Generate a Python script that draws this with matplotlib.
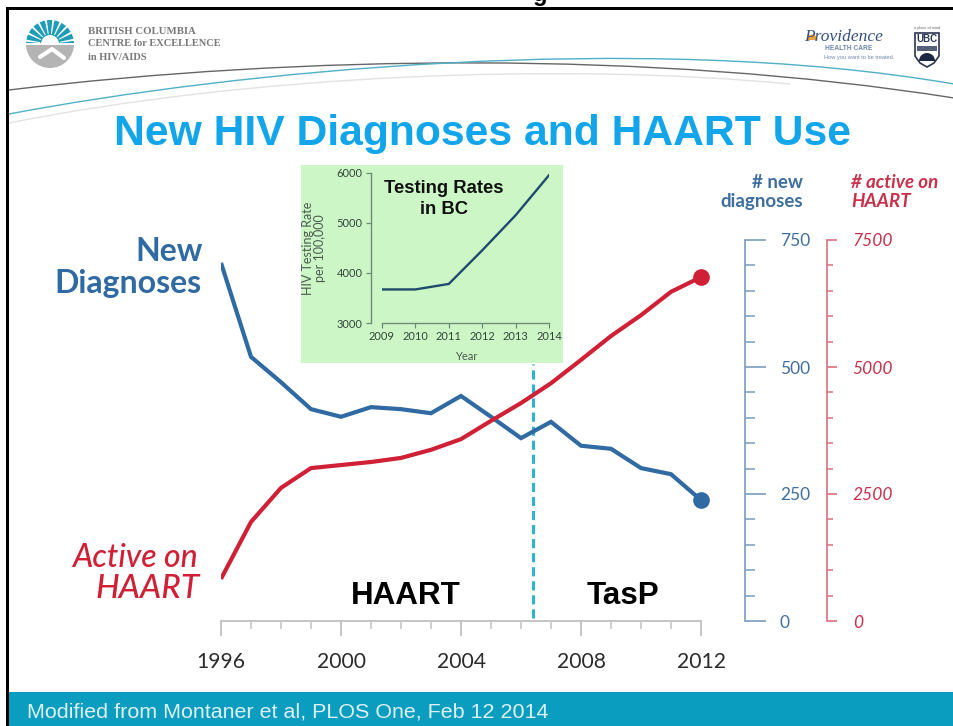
import numpy as np
import matplotlib
matplotlib.use("Agg")
import matplotlib.pyplot as plt
from matplotlib.patches import Rectangle, Wedge, PathPatch, Polygon
from matplotlib.path import Path
from matplotlib.ticker import MultipleLocator, FixedLocator

years = list(range(1996, 2013))
new_diagnoses = [705, 520, 470, 417, 402, 421, 417, 409, 443, 402, 360, 392, 345, 339, 301, 289, 238]
active_on_haart = [830, 1950, 2620, 3010, 3070, 3130, 3210, 3370, 3580, 3940, 4290, 4680, 5140, 5610, 6020, 6480, 6770]
test_years = [2009, 2010, 2011, 2012, 2013, 2014]
test_rates = [3670, 3670, 3780, 4450, 5150, 5950]
xticks_main = [1996, 2000, 2004, 2008, 2012]
era_break = 2006.4

W, H = 954, 726
BLUE = '#2f6aa3'; RED = '#cf2036'
SANS = 'Liberation Sans'; LATO = 'Lato'; SERIF = 'Liberation Serif'

fig = plt.figure(figsize=(W/100, H/100), dpi=100, facecolor='white')

def pos(x0, x1, ytop, ybot):
    return [x0/W, 1-ybot/H, (x1-x0)/W, (ybot-ytop)/H]

# pixel canvas for slide decoration
bg = fig.add_axes([0, 0, 1, 1], zorder=0)
bg.set_xlim(0, W); bg.set_ylim(H, 0); bg.axis('off')
bg.add_patch(Rectangle((8, 692), W-8, 34, fc='#0a9dbf', ec='none'))
bg.add_patch(Rectangle((7, 7), W-7, 2.6, fc='black', ec='none'))
bg.add_patch(Rectangle((6.5, 7), 2.4, H-7, fc='black', ec='none'))
bg.text(540, 1.5, 'g', family=SANS, weight='bold', fontsize=17, ha='center', va='baseline', color='black')
bg.text(27, 712, 'Modified from Montaner et al, PLOS One, Feb 12 2014', family=SANS, fontsize=15.45,
        color='#dcf1f6', va='center', ha='left')

# header swooshes
for pts, c, lw in [
    ([(9, 123), (250, 75), (560, 62), (790, 84)], '#e2e2e2', 1.0),
    ([(9, 90), (300, 55), (650, 50), (954, 98)], '#666666', 1.0),
    ([(9, 114), (230, 72), (640, 30), (954, 84)], '#4fb0c6', 1.0)]:
    bg.add_patch(PathPatch(Path(pts, [Path.MOVETO, Path.CURVE4, Path.CURVE4, Path.CURVE4]),
                           fc='none', ec=c, lw=lw))

# BC Centre logo
cx, cy, r = 50, 44, 24
bg.add_patch(Wedge((cx, cy), r, 180, 360, fc='#1f9db8', ec='none'))
bg.add_patch(Wedge((cx, cy), r, 0, 180, fc='#b4b4b4', ec='none'))
for a in np.arange(188, 360, 18):
    bg.add_patch(Wedge((cx, cy), r+1, a-2.5, a+2.5, width=r-9, fc='white', ec='none'))
bg.add_patch(Wedge((cx, cy), 9, 180, 360, fc='white', ec='none'))
bg.add_patch(Rectangle((cx-r, cy-1), 2*r, 2, fc='white', ec='none'))
bg.plot([cx-10, cx+2, cx+14], [cy+13, cy+5, cy+14], color='white', lw=3, solid_capstyle='round')
for s, y, fs in zip(['BRITISH COLUMBIA', 'CENTRE for EXCELLENCE', 'in HIV/AIDS'], [31, 44, 58], [7.75, 7.5, 7.5]):
    bg.text(88, y, s, family=SERIF, weight='bold', fontsize=fs, color='#787878', va='center', ha='left')

# Providence logo
bg.add_patch(Wedge((812, 40), 5.5, 180, 360, fc='#e8a03a', ec='none'))
bg.text(844, 37, 'Providence', family=SERIF, style='italic', fontsize=12.5, color='#35507f', ha='center', va='center')
bg.text(849, 48, 'HEALTH CARE', family=SANS, weight='bold', fontsize=4.8, color='#6d86aa', ha='center', va='center')
bg.text(859, 58, 'How you want to be treated.', family=SANS, fontsize=4.1, color='#6d86aa', ha='center', va='center')

# UBC shield
bg.add_patch(Polygon([(915, 33), (939, 33), (939, 56), (934, 63), (927, 67), (920, 63), (915, 56)],
                     closed=True, fc='white', ec='#2b3550', lw=1.2))
bg.text(927, 39.5, 'UBC', family=SANS, weight='bold', fontsize=7, color='#2b3550', ha='center', va='center')
bg.add_patch(Rectangle((917, 46), 20, 5, fc='#55607a', ec='none'))
bg.add_patch(Wedge((927, 61), 8, 180, 360, fc='#1c2745', ec='none'))
bg.text(927, 28.5, 'a place of mind', family=SANS, fontsize=2.8, color='#666666', ha='center', va='center')

# title
bg.text(483, 145, 'New HIV Diagnoses and HAART Use', family=SANS, weight='bold', fontsize=30.7,
        color='#12a5ea', ha='center', va='baseline')

# green inset background
bg.add_patch(Rectangle((301, 165), 262, 198, fc='#cdf6c6', ec='none'))

# main chart
ax = fig.add_axes(pos(221, 701, 240, 621), zorder=1)
ax.patch.set_alpha(0)
ax.set_xlim(years[0], years[-1]); ax.set_ylim(0, 750)
for s in ['top', 'left', 'right']:
    ax.spines[s].set_visible(False)
ax.spines['bottom'].set_color('#c4c4c4'); ax.spines['bottom'].set_linewidth(1.4)
ax.set_yticks([])
ax.xaxis.set_major_locator(FixedLocator(xticks_main))
ax.xaxis.set_minor_locator(MultipleLocator(1))
ax.tick_params(axis='x', which='major', length=11, width=1.4, color='#c4c4c4', pad=11, labelsize=15.2, labelcolor='#2b2b2b')
ax.tick_params(axis='x', which='minor', length=5.5, width=1.1, color='#c4c4c4')
for t in ax.get_xticklabels():
    t.set_family(LATO)
ax.plot([era_break, era_break], [5, 506], color='#2fb3d3', lw=2.2, ls=(0, (3, 1.6)), zorder=5)
ax.text(2002.17, 50, 'HAART', family=SANS, weight='bold', fontsize=22.6, ha='center', va='center', color='black')
ax.text(2009.4, 50, 'TasP', family=SANS, weight='bold', fontsize=22.6, ha='center', va='center', color='black')

# blue axis and line
ab = ax.twinx(); ab.set_zorder(2); ab.patch.set_alpha(0)
ab.set_ylim(0, 750)
ab.plot(years, new_diagnoses, color=BLUE, lw=3, solid_joinstyle='miter', solid_capstyle='butt')
ab.plot(years[-1:], new_diagnoses[-1:], 'o', ms=12, color=BLUE, mec='none', clip_on=False)
for s in ['top', 'left', 'bottom']:
    ab.spines[s].set_visible(False)
ab.spines['right'].set_position(('outward', 31.7))
ab.spines['right'].set_color('#7b9cbd'); ab.spines['right'].set_linewidth(1.2)
ab.yaxis.set_major_locator(MultipleLocator(250)); ab.yaxis.set_minor_locator(MultipleLocator(50))
ab.tick_params(axis='y', which='major', length=15, width=1.2, color='#7b9cbd', pad=10, labelsize=12.5, labelcolor='#3f6f9f')
ab.tick_params(axis='y', which='minor', length=7.5, width=1.1, color='#7b9cbd')
for t in ab.get_yticklabels():
    t.set_family(LATO)

# red axis and line
ar = ax.twinx(); ar.set_zorder(3); ar.patch.set_alpha(0)
ar.set_ylim(0, 7500)
ar.plot(years, active_on_haart, color=RED, lw=3, solid_joinstyle='round', solid_capstyle='butt')
ar.plot(years[-1:], active_on_haart[-1:], 'o', ms=12, color=RED, mec='none', clip_on=False)
for s in ['top', 'left', 'bottom']:
    ar.spines[s].set_visible(False)
ar.spines['right'].set_position(('outward', 90.7))
ar.spines['right'].set_color('#d9707f'); ar.spines['right'].set_linewidth(1.2)
ar.yaxis.set_major_locator(MultipleLocator(2500)); ar.yaxis.set_minor_locator(MultipleLocator(500))
ar.tick_params(axis='y', which='major', length=7.5, width=1.2, color='#d9707f', pad=11, labelsize=12.5, labelcolor='#c9314a')
ar.tick_params(axis='y', which='minor', length=4, width=1.1, color='#d9707f')
for t in ar.get_yticklabels():
    t.set_family(LATO); t.set_style('italic')

# slide labels
bg.text(203, 261, 'New', family=LATO, weight='bold', fontsize=23, color=BLUE, ha='right', va='baseline')
bg.text(202, 293, 'Diagnoses', family=LATO, weight='bold', fontsize=23, color=BLUE, ha='right', va='baseline')
bg.text(198, 567, 'Active on', family=LATO, style='italic', weight='medium', fontsize=23, color=RED, ha='right', va='baseline')
bg.text(200, 598, 'HAART', family=LATO, style='italic', weight='medium', fontsize=24, color=RED, ha='right', va='baseline')
bg.text(803, 188, '# new', family=LATO, weight='bold', fontsize=13.5, color='#3f6f9f', ha='right', va='baseline')
bg.text(803, 207, 'diagnoses', family=LATO, weight='bold', fontsize=13.5, color='#3f6f9f', ha='right', va='baseline')
bg.text(851, 188, '# active on', family=LATO, style='italic', weight='bold', fontsize=13.5, color='#c9314a', ha='left', va='baseline')
bg.text(851, 207, 'HAART', family=LATO, style='italic', weight='bold', fontsize=13.5, color='#c9314a', ha='left', va='baseline')

# inset
ins = fig.add_axes(pos(382, 549, 172.7, 323), zorder=4)
ins.patch.set_alpha(0)
ins.set_xlim(2009, 2014); ins.set_ylim(3000, 6000)
ins.plot(test_years, test_rates, color='#1d4a6d', lw=1.7, solid_joinstyle='miter')
for s in ['top', 'right']:
    ins.spines[s].set_visible(False)
ins.spines['left'].set_position(('outward', 8))
ins.spines['left'].set_color('#6d8c76'); ins.spines['bottom'].set_color('#6d8c76')
ins.spines['left'].set_linewidth(1); ins.spines['bottom'].set_linewidth(1)
ins.set_xticks(test_years); ins.set_yticks([3000, 4000, 5000, 6000])
ins.tick_params(axis='both', length=3.5, width=0.9, color='#6d8c76', labelsize=8, labelcolor='#33443a', pad=2.5)
for t in ins.get_xticklabels() + ins.get_yticklabels():
    t.set_family(LATO)
bg.text(466, 356, 'Year', family=LATO, fontsize=8, color='#4a5a50', ha='center', va='center', zorder=6)
bg.text(314, 248, 'HIV Testing Rate\nper 100,000', family=LATO, fontsize=9, linespacing=0.95, rotation=90,
        color='#4a5a50', ha='center', va='center', zorder=6)
ins.text(2010.85, 5680, 'Testing Rates', family=SANS, weight='bold', fontsize=13.3, color='#111111', ha='center', va='center')
ins.text(2010.85, 5260, 'in BC', family=SANS, weight='bold', fontsize=13.3, color='#111111', ha='center', va='center')

fig.savefig('out.png', dpi=100)
